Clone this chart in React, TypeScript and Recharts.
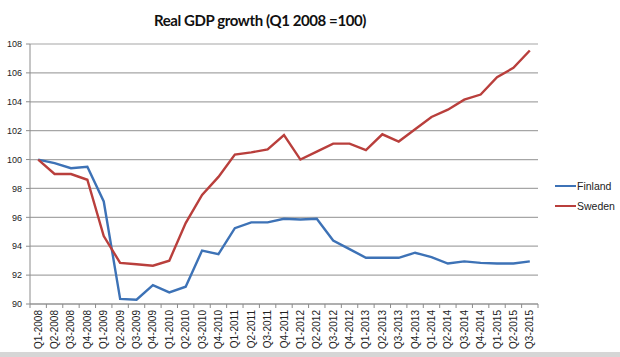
import { LineChart, Line, XAxis, YAxis, CartesianGrid } from "recharts";
/* eslint-disable  @typescript-eslint/no-explicit-any */

const QUARTERS = [
  "Q1-2008", "Q2-2008", "Q3-2008", "Q4-2008",
  "Q1-2009", "Q2-2009", "Q3-2009", "Q4-2009",
  "Q1-2010", "Q2-2010", "Q3-2010", "Q4-2010",
  "Q1-2011", "Q2-2011", "Q3-2011", "Q4-2011",
  "Q1-2012", "Q2-2012", "Q3-2012", "Q4-2012",
  "Q1-2013", "Q2-2013", "Q3-2013", "Q4-2013",
  "Q1-2014", "Q2-2014", "Q3-2014", "Q4-2014",
  "Q1-2015", "Q2-2015", "Q3-2015",
];

const FINLAND = [
  100, 99.75, 99.4, 99.5,
  97.1, 90.35, 90.3, 91.3,
  90.8, 91.2, 93.7, 93.45,
  95.25, 95.65, 95.65, 95.9,
  95.85, 95.9, 94.4, 93.8,
  93.2, 93.2, 93.2, 93.55,
  93.25, 92.8, 92.95, 92.85,
  92.8, 92.8, 92.95,
];

const SWEDEN = [
  100, 99.0, 99.0, 98.6,
  94.7, 92.85, 92.75, 92.65,
  93.0, 95.6, 97.55, 98.8,
  100.35, 100.5, 100.7, 101.7,
  100.0, 100.55, 101.1, 101.1,
  100.65, 101.75, 101.25, 102.1,
  102.95, 103.45, 104.15, 104.5,
  105.7, 106.35, 107.55,
];

const Y_TICKS = [90, 92, 94, 96, 98, 100, 102, 104, 106, 108];

const SERIES = [
  { key: "Finland", color: "#3D72B6" },
  { key: "Sweden", color: "#B93F3C" },
];

const data = QUARTERS.map((q, i) => ({
  quarter: q,
  Finland: FINLAND[i],
  Sweden: SWEDEN[i],
}));

const AXIS_COLOR = "#8C8C8C";
const LABEL_FONT = "'Liberation Sans', Arial, sans-serif";
const AXIS_Y = 304;

const XTick = (props: any) => {
  const { x, payload, index, band } = props;
  return (
    <g>
      <line x1={x - band / 2} y1={AXIS_Y} x2={x - band / 2} y2={AXIS_Y + 4} stroke={AXIS_COLOR} />
      {index === QUARTERS.length - 1 && (
        <line x1={x + band / 2} y1={AXIS_Y} x2={x + band / 2} y2={AXIS_Y + 4} stroke={AXIS_COLOR} />
      )}
      <text
        x={0}
        y={0}
        transform={`translate(${x + 3.5},${AXIS_Y + 6}) rotate(-90)`}
        textAnchor="end"
        fontSize={10}
        fontFamily={LABEL_FONT}
        fill="#222"
      >
        {payload.value}
      </text>
    </g>
  );
};

export default function App() {
  const width = 620;
  const height = 357;
  const margin = { top: 44, right: 82, left: 0, bottom: 0 };
  const plotW = width - 30 - margin.right;
  const band = plotW / QUARTERS.length;

  return (
    <div
      style={{
        position: "absolute",
        left: 0,
        top: 0,
        width,
        height,
        background: "#fff",
        overflow: "hidden",
      }}
    >
      <div
        style={{
          position: "absolute",
          left: 0,
          top: 11,
          width: 520,
          textAlign: "center",
          fontFamily: "Lato, 'Open Sans', sans-serif",
          fontWeight: 700,
          fontSize: 15,
          letterSpacing: -0.4,
          color: "#111",
        }}
      >
        Real GDP growth (Q1 2008 =100)
      </div>

      <LineChart width={width} height={height} data={data} margin={margin}>
        <CartesianGrid vertical={false} stroke="#A6A6A6" strokeWidth={1.2} />
        <XAxis
          dataKey="quarter"
          scale="band"
          height={53}
          interval={0}
          axisLine={{ stroke: AXIS_COLOR }}
          tickLine={false}
          tick={<XTick band={band} />}
        />
        <YAxis
          width={30}
          domain={[90, 108]}
          ticks={Y_TICKS}
          interval={0}
          axisLine={{ stroke: AXIS_COLOR }}
          tickLine={{ stroke: AXIS_COLOR }}
          tickSize={4}
          tickMargin={4}
          tick={{ fontSize: 9, fill: "#222", fontFamily: LABEL_FONT }}
        />
        {SERIES.map((s) => (
          <Line
            key={s.key}
            dataKey={s.key}
            stroke={s.color}
            strokeWidth={2.4}
            dot={false}
            isAnimationActive={false}
          />
        ))}
      </LineChart>

      <div style={{ position: "absolute", left: 555, top: 176, fontFamily: LABEL_FONT, fontSize: 10.5 }}>
        {SERIES.map((s) => (
          <div key={s.key} style={{ display: "flex", alignItems: "center", height: 20 }}>
            <span style={{ display: "inline-block", width: 21, height: 2.4, background: s.color }} />
            <span style={{ marginLeft: 1, color: "#222" }}>{s.key}</span>
          </div>
        ))}
      </div>

      <div
        style={{
          position: "absolute",
          left: 0,
          top: 352,
          width,
          height: 5,
          background: "#D6D6D6",
        }}
      />
    </div>
  );
}
